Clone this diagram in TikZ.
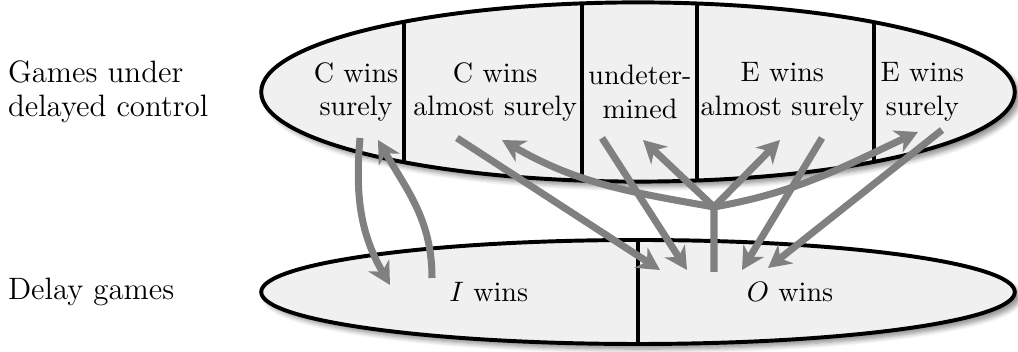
\documentclass[tikz,border=0pt]{standalone}
\usepackage{tikz}
\usetikzlibrary{arrows.meta}
\usetikzlibrary{positioning}
\usetikzlibrary{shadows.blur}
\definecolor{cellfill}{gray}{0.94}
\definecolor{flow}{gray}{0.5}
\tikzstyle{base}=[inner sep=0pt, outer sep=0pt]
\tikzstyle{region}=[draw=black, line width=1.4pt, fill=cellfill, blur shadow={shadow xshift=1.8pt, shadow yshift=-1.8pt, shadow blur steps=6, shadow opacity=45}]
\tikzstyle{divider}=[black, line width=1.1pt]
\tikzstyle{cell}=[align=center]
\tikzstyle{side}=[anchor=west, align=left, font=\fontsize{11}{12}\selectfont]
\tikzstyle{flowarrow}=[draw=flow, line width=2.5pt, line join=round, -{Stealth[length=8pt,width=8.5pt,inset=2.5pt]}]

\begin{document}
\begin{tikzpicture}[base]
    \path [use as bounding box] (0,0) rectangle (12.725,-4.4);
    % the two families of games
    \draw [region] (7.975,-1.15) ellipse (4.71 and 1.12);
    \draw [region] (7.975,-3.65) ellipse (4.71 and 0.65);
    \begin{scope}
        \clip (7.975,-1.15) ellipse (4.71 and 1.12);
        \foreach \x in {5.05, 7.275, 8.7125, 10.925}
            \draw [divider] (\x,0) -- (\x,-2.4);
    \end{scope}
    \begin{scope}
        \clip (7.975,-3.65) ellipse (4.71 and 0.65);
        \draw [divider] (7.975,-2.9) -- (7.975,-4.4);
    \end{scope}
    % labels
    \node [side] (lgames) at (0.1,-1.15) {Games under\\delayed control};
    \node [side] (ldelay) at (0.1,-3.65) {Delay games};
    \node [cell] (cws) at (4.45,-1.15) {C wins\\surely};
    \node [cell] (cwas) at (6.19,-1.15) {C wins\\almost surely};
    \node [cell] (undet) at (8.0,-1.15) {undeter-\\mined};
    \node [cell] (ewas) at (9.78,-1.15) {E wins\\almost surely};
    \node [cell] (ews) at (11.53,-1.15) {E wins\\surely};
    \node (iwins) at (6.11,-3.65) {$I$ wins};
    \node (owins) at (9.875,-3.65) {$O$ wins};
    % arrow ends
    \coordinate (cws-out) at (4.5,-1.725);
    \coordinate (cws-in) at (4.725,-1.75);
    \coordinate (cwas-out) at (5.7125,-1.725);
    \coordinate (cwas-in) at (6.275,-1.75);
    \coordinate (undet-out) at (7.525,-1.725);
    \coordinate (undet-in) at (8.0375,-1.75);
    \coordinate (ewas-out) at (10.275,-1.725);
    \coordinate (ewas-in) at (9.75,-1.75);
    \coordinate (ews-out) at (11.775,-1.625);
    \coordinate (ews-in) at (11.475,-1.65);
    \coordinate (iwins-in) at (4.875,-3.5625);
    \coordinate (iwins-out) at (5.4,-3.475);
    \coordinate (owins-a) at (8.25,-3.375);
    \coordinate (owins-b) at (8.5875,-3.375);
    \coordinate (owins-c) at (9.275,-3.375);
    \coordinate (owins-d) at (9.6,-3.35);
    \coordinate (owins-out) at (8.925,-3.4);
    \coordinate (fork) at (8.925,-2.5875);
    % arrows
    \draw [flowarrow] (cws-out) to[out=-95,in=120] (iwins-in);
    \draw [flowarrow] (iwins-out) to[out=90,in=-60] (cws-in);
    \draw [flowarrow] (cwas-out) -- (owins-a);
    \draw [flowarrow] (undet-out) -- (owins-b);
    \draw [flowarrow] (ewas-out) -- (owins-c);
    \draw [flowarrow] (ews-out) -- (owins-d);
    \draw [flowarrow] (owins-out) -- (fork) to[out=170,in=-30] (cwas-in);
    \draw [flowarrow] (fork) -- (undet-in);
    \draw [flowarrow] (fork) -- (ewas-in);
    \draw [flowarrow] (fork) to[out=10,in=205] (ews-in);
\end{tikzpicture}
\end{document}
